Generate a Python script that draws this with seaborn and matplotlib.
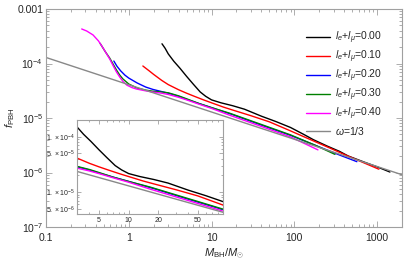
"""f_PBH vs M_BH for different lepton flavour asymmetries, with zoomed inset."""

import matplotlib

matplotlib.use("Agg")
import matplotlib.pyplot as plt
import matplotlib.ticker as mticker
import pandas as pd
import seaborn as sns

# --- data (M_BH / M_sun, f_PBH) ---
black_m = [2.52, 2.75, 3.0, 3.5, 4.15, 5.0, 6.0, 7.3, 8.5, 10, 13, 18, 25, 40, 60, 90,
           130, 170, 250, 350, 450, 700, 1000, 1430]
black_f = [2.3e-4, 1.9e-4, 1.5e-4, 1.1e-4, 8.2e-5, 5.8e-5, 4.2e-5, 3.0e-5, 2.5e-5, 2.15e-5,
           1.9e-5, 1.68e-5, 1.45e-5, 1.08e-5, 8.6e-6, 6.7e-6, 5.0e-6, 4.0e-6, 3.05e-6,
           2.45e-6, 2.0e-6, 1.55e-6, 1.27e-6, 1.02e-6]

red_m = [1.48, 1.75, 2.0, 2.5, 3.0, 4.0, 5.0, 6.2, 8, 10, 14, 18, 30, 50, 90, 170, 270,
         400, 600, 1050]
red_f = [9.0e-5, 7.4e-5, 6.3e-5, 4.9e-5, 4.1e-5, 3.3e-5, 2.85e-5, 2.5e-5, 2.15e-5, 1.9e-5,
         1.58e-5, 1.4e-5, 1.1e-5, 8.5e-6, 5.8e-6, 3.8e-6, 2.8e-6, 2.15e-6, 1.65e-6, 1.15e-6]

blue_m = [0.66, 0.72, 0.8, 0.9, 1.0, 1.26, 1.6, 1.95, 2.5, 3.0, 4.0, 5.0, 7.0, 10, 18, 40,
          90, 200, 350, 570]
blue_f = [1.11e-4, 8.9e-5, 7.3e-5, 6.1e-5, 5.4e-5, 4.4e-5, 3.7e-5, 3.35e-5, 3.05e-5,
          2.85e-5, 2.5e-5, 2.2e-5, 1.85e-5, 1.55e-5, 1.15e-5, 7.4e-6, 4.8e-6, 2.95e-6,
          2.1e-6, 1.58e-6]

green_m = [0.45, 0.52, 0.59, 0.65, 0.71, 0.78, 0.85, 1.0, 1.26, 1.6, 1.95, 2.5, 3.0, 4.0,
           5.0, 7.0, 10, 16.4, 40, 90, 180, 310]
green_f = [2.35e-4, 1.65e-4, 1.25e-4, 9.6e-5, 7.6e-5, 6.1e-5, 5.2e-5, 4.2e-5, 3.55e-5,
           3.25e-5, 3.1e-5, 3.0e-5, 2.9e-5, 2.55e-5, 2.25e-5, 1.85e-5, 1.55e-5, 1.23e-5,
           7.6e-6, 4.9e-6, 3.15e-6, 2.15e-6]

magenta_m = [0.27, 0.31, 0.37, 0.43, 0.49, 0.54, 0.59, 0.65, 0.71, 0.78, 0.85, 0.95, 1.1,
             1.24, 1.6, 1.95, 2.5, 3.0, 4.0, 5.0, 7.0, 10, 16.4, 40, 90, 193]
magenta_f = [4.3e-4, 3.95e-4, 3.34e-4, 2.6e-4, 1.92e-4, 1.5e-4, 1.2e-4, 9.0e-5, 7.0e-5,
             5.6e-5, 4.7e-5, 4.0e-5, 3.6e-5, 3.4e-5, 3.15e-5, 3.0e-5, 2.85e-5, 2.7e-5,
             2.4e-5, 2.15e-5, 1.8e-5, 1.5e-5, 1.13e-5, 7.0e-6, 4.5e-6, 2.6e-6]

gray_m = [0.1, 2000]
gray_f = [1.29e-4, 9.1e-7]

labels = [r"$l_e$+$l_\mu$=0.00", r"$l_e$+$l_\mu$=0.10", r"$l_e$+$l_\mu$=0.20",
          r"$l_e$+$l_\mu$=0.30", r"$l_e$+$l_\mu$=0.40", r"$\omega$=1/3"]
colors = ["black", "#ff0000", "#0000ff", "#008000", "#ff00ff", "#888888"]

main_xticks = [0.1, 1, 10, 100, 1000]
main_xlabels = ["0.1", "1", "10", "100", "1000"]
main_yticks = [1e-7, 1e-6, 1e-5, 1e-4, 1e-3]
main_ylabels = [r"$10^{-7}$", r"$10^{-6}$", r"$10^{-5}$", r"$10^{-4}$", "0.001"]
inset_xticks = [5, 10, 20, 50]
inset_xlabels = ["5", "10", "20", "50"]
inset_yticks = [5e-6, 1e-5, 5e-5, 1e-4]
inset_ylabels = [r"$5.\times10^{-6}$", r"$1.\times10^{-5}$",
                 r"$5.\times10^{-5}$", r"$1.\times10^{-4}$"]

curves = [
    (black_m, black_f),
    (red_m, red_f),
    (blue_m, blue_f),
    (green_m, green_f),
    (magenta_m, magenta_f),
    (gray_m, gray_f),
]

sns.set_style("ticks")
plt.rcParams["font.family"] = ["Liberation Sans", "DejaVu Sans"]
plt.rcParams["mathtext.fontset"] = "custom"
plt.rcParams["mathtext.rm"] = "Liberation Sans"
plt.rcParams["mathtext.it"] = "Liberation Sans:italic"
plt.rcParams["mathtext.bf"] = "Liberation Sans:bold"

frame_color = "#a0a0a0"

fig = plt.figure(figsize=(4.07, 2.61), dpi=100)
ax = fig.add_axes([46 / 407, 1 - 227 / 261, 356 / 407, 218 / 261])
ins = fig.add_axes([77 / 407, 1 - 214 / 261, 146 / 407, 94 / 261])


def draw_curves(axis, lw, with_labels):
    for (m, f), col, lab in zip(curves, colors, labels):
        df = pd.DataFrame({"m": m, "f": f})
        sns.lineplot(data=df, x="m", y="f", ax=axis, color=col, lw=lw,
                     label=lab if with_labels else None, legend=False,
                     sort=False, estimator=None)


def style_axis(axis, xticks, xlabels, yticks, ylabels, fs, major_len, minor_len, xpad):
    axis.set_xscale("log")
    axis.set_yscale("log")
    axis.xaxis.set_major_locator(mticker.FixedLocator(xticks))
    axis.xaxis.set_major_formatter(mticker.FixedFormatter(xlabels))
    axis.yaxis.set_major_locator(mticker.FixedLocator(yticks))
    axis.yaxis.set_major_formatter(mticker.FixedFormatter(ylabels))
    axis.xaxis.set_minor_locator(mticker.LogLocator(base=10, subs=range(1, 10), numticks=20))
    axis.yaxis.set_minor_locator(mticker.LogLocator(base=10, subs=range(1, 10), numticks=20))
    axis.xaxis.set_minor_formatter(mticker.NullFormatter())
    axis.yaxis.set_minor_formatter(mticker.NullFormatter())
    axis.tick_params(which="both", direction="in", top=True, right=True,
                     color=frame_color, width=0.6, labelsize=fs, pad=2)
    axis.tick_params(axis="x", pad=xpad)
    axis.tick_params(which="major", length=major_len)
    axis.tick_params(which="minor", length=minor_len)
    for sp in axis.spines.values():
        sp.set_color(frame_color)
        sp.set_linewidth(0.8)
    axis.set_xlabel("")
    axis.set_ylabel("")


draw_curves(ax, 1.0, True)
style_axis(ax, main_xticks, main_xlabels, main_yticks, main_ylabels, 7.5, 4, 2, 4)
ax.set_xlim(0.1, 2000)
ax.set_ylim(1e-7, 1e-3)
ax.set_xlabel(r"$M_{\rm BH}/M_{\odot}$", fontsize=8, labelpad=3)
ax.set_ylabel(r"$f_{\rm PBH}$", fontsize=8, labelpad=0)

ax.legend(loc="upper left", bbox_to_anchor=(306 / 407, 1 - 30 / 261),
          bbox_transform=fig.transFigure, frameon=False, fontsize=7.5,
          handlelength=2.3, handletextpad=0.5, labelspacing=0.25,
          borderpad=0, borderaxespad=0)

draw_curves(ins, 1.0, False)
style_axis(ins, inset_xticks, inset_xlabels, inset_yticks, inset_ylabels, 5, 3, 1.5, 2)
ins.set_xlim(3, 90)
ins.set_ylim(4e-6, 2e-4)
ins.set_facecolor("white")

fig.savefig("out.png", dpi=100)
plt.close(fig)
